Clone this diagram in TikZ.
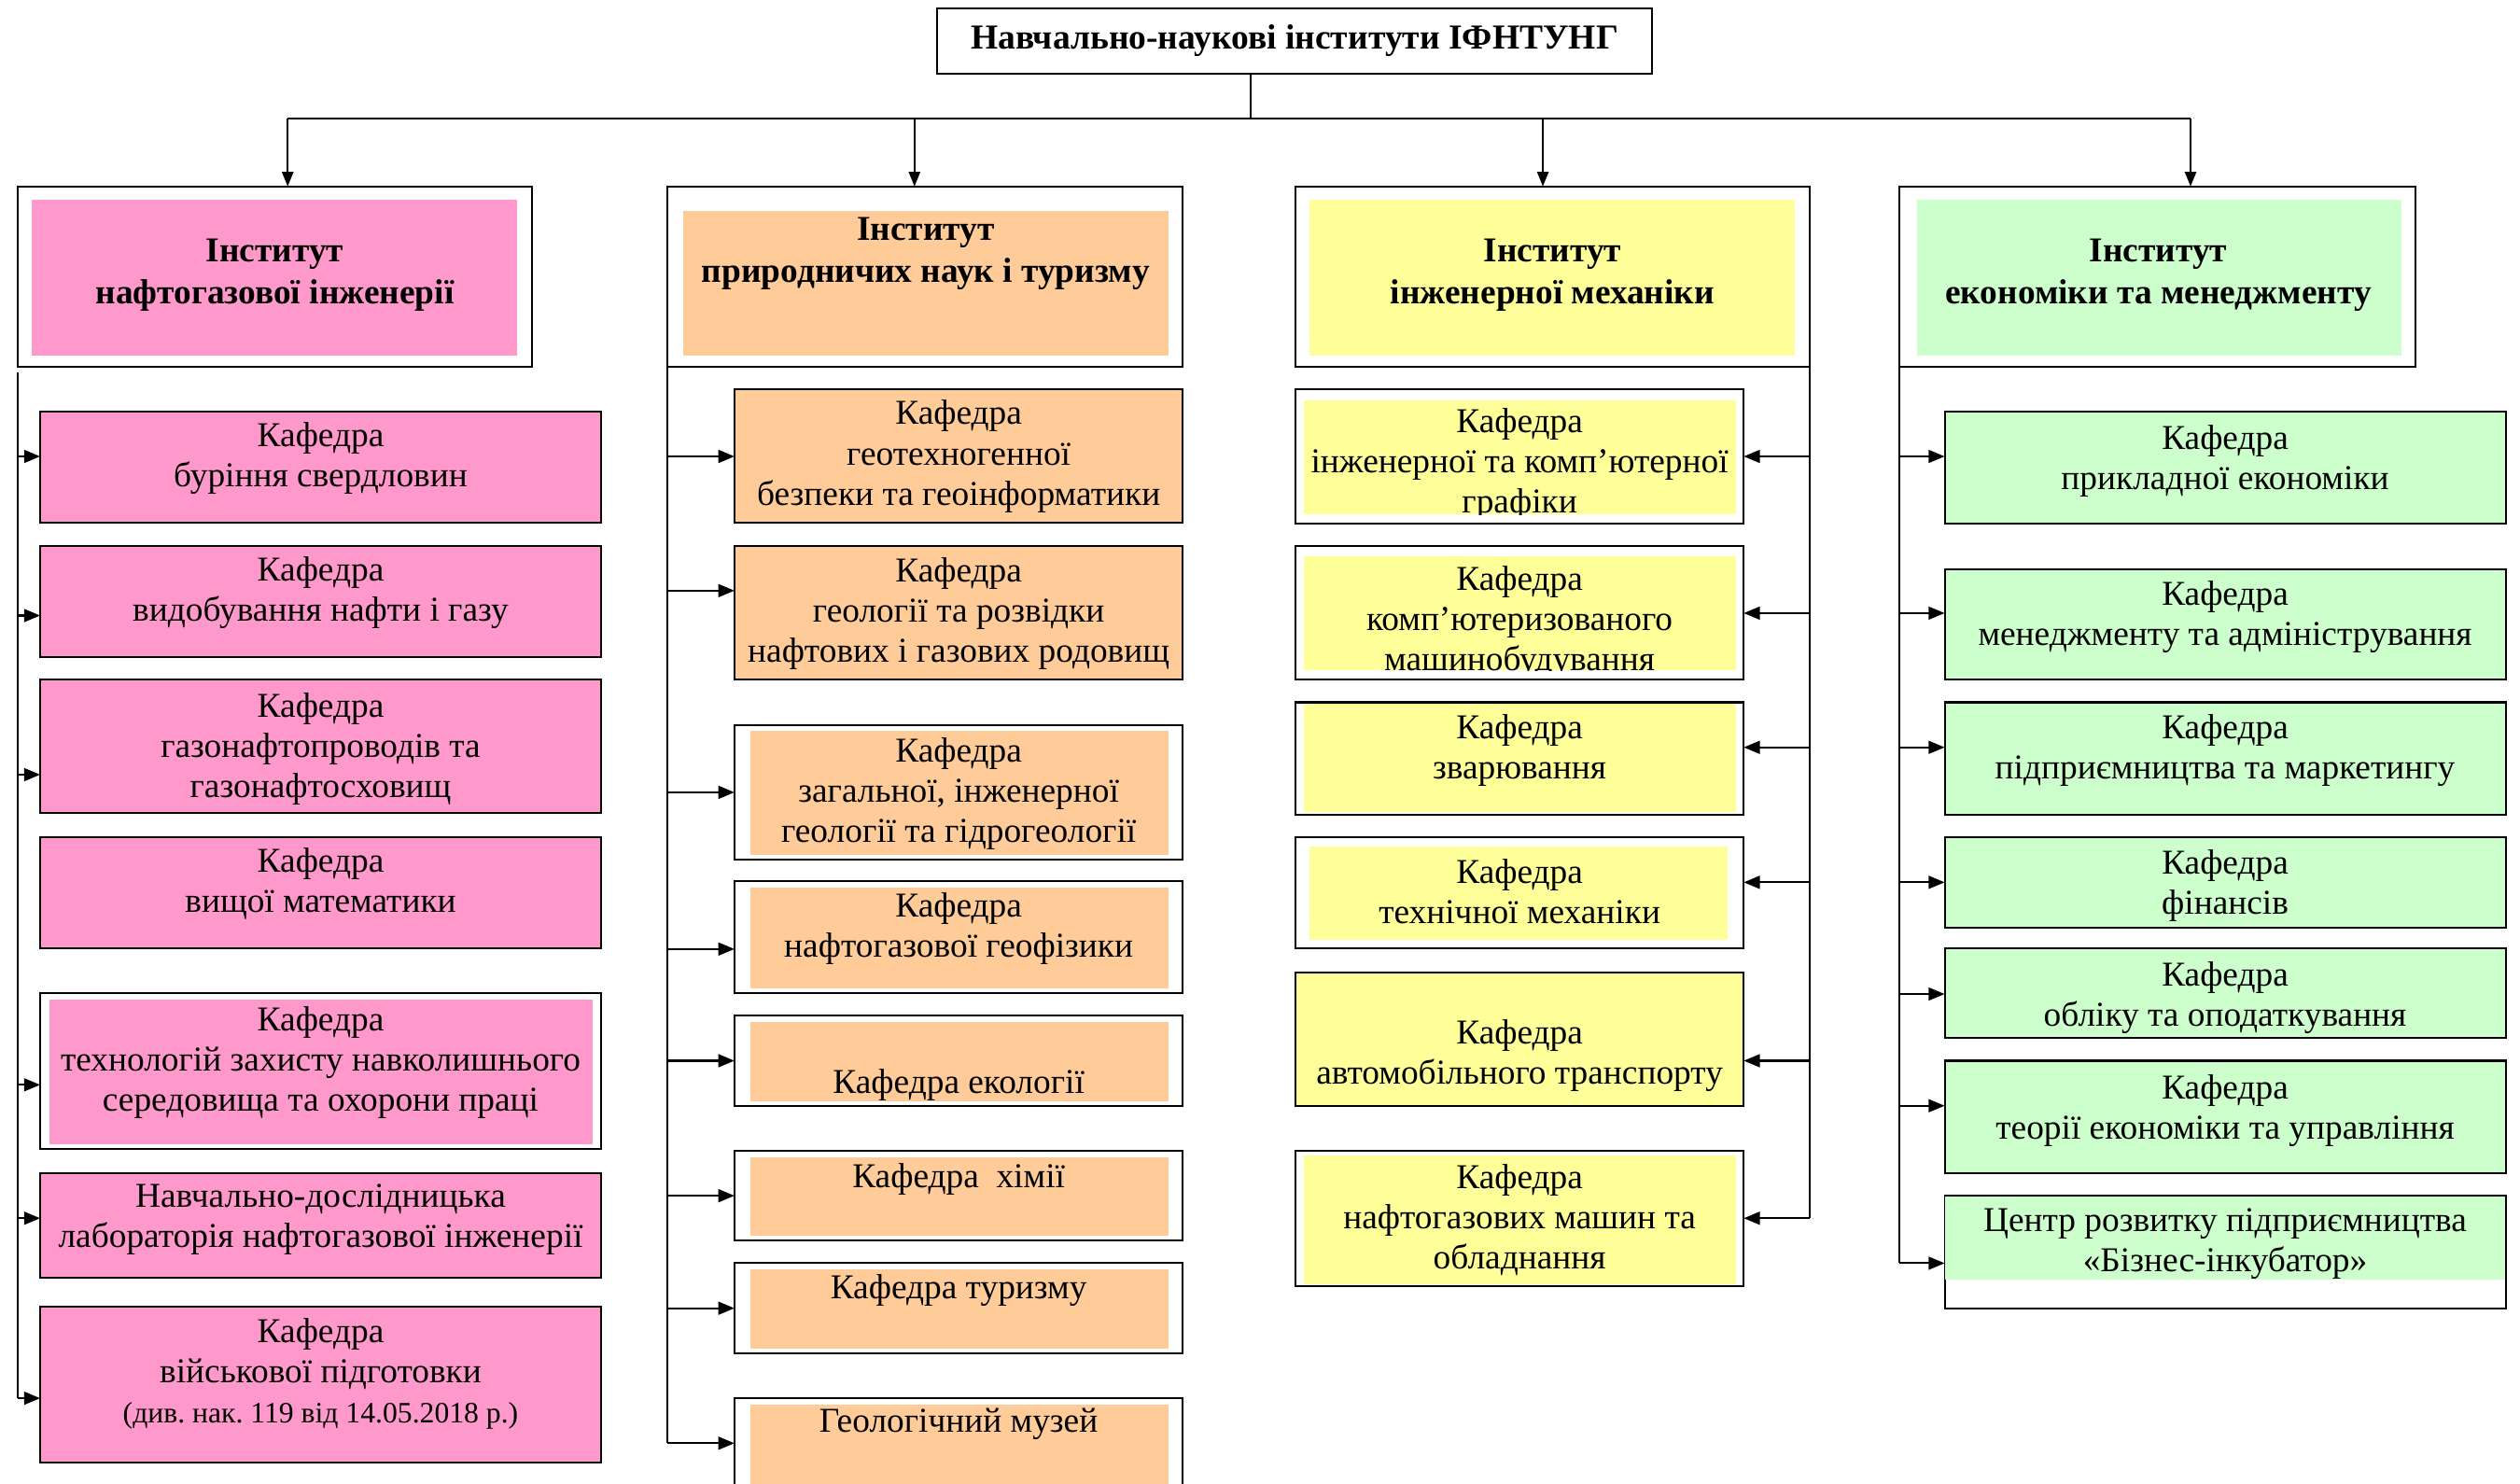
\documentclass[tikz,border=0pt]{standalone}
\usepackage{fontspec}
\setmainfont{Liberation Serif}
\usetikzlibrary{arrows.meta}
\frenchspacing
\definecolor{cpink}{HTML}{FF99CC}
\definecolor{corange}{HTML}{FFCC99}
\definecolor{cyellow}{HTML}{FFFF99}
\definecolor{cgreen}{HTML}{CCFFCC}
\tikzset{
 frame/.style={draw=black, line width=1.2pt, inner sep=0pt, outer sep=0pt},
 arr/.style={line width=1.2pt, -{Triangle[length=10pt,width=8pt]}},
 downarr/.style={line width=1.2pt, -{Triangle[length=9pt,width=7pt]}},
 bus/.style={line width=1.2pt},
 txt/.style={align=center, inner sep=0pt, font=\fontsize{21.7}{25}\selectfont},
 ttl/.style={align=center, inner sep=0pt, font=\bfseries\fontsize{21.7}{26}\selectfont},
}
\newcommand\bx[6]{\node[frame, fill=#6, minimum width={#4-#2}, minimum height={#5-#3}] (#1) at ({(#2+#4)/2},{(#3+#5)/2}) {};}
\newcommand\inr[5]{\fill[#5] (#1,#2) rectangle (#3,#4);}
\newcommand\rar[3]{\coordinate (#1s) at (#2,#3);\draw[arr] (#1s) -- (#1s -| #1.west);}
\newcommand\lar[3]{\coordinate (#1s) at (#2,#3);\draw[arr] (#1s) -- (#1s -| #1.east);}
\begin{document}
\begin{tikzpicture}[x=1pt,y=-1pt]
\path[use as bounding box, clip] (0,0) rectangle (1568,923);
\fill[white] (0,0) rectangle (1568,923);

% title
\node[frame, fill=white, minimum width=445, minimum height=41, font=\bfseries\fontsize{21.8}{26}\selectfont] (top) at (805.5,25.5) {Навчально-наукові інститути ІФНТУНГ};

% institutes
\bx{i1}{11}{116}{331}{228}{white}
\inr{20}{124}{322}{221}{cpink}
\node[ttl] (i1t) at (171,171) {Інститут\\нафтогазової інженерії};
\bx{i2}{415}{116}{736}{228}{white}
\inr{425}{131}{727}{221}{corange}
\node[ttl] (i2t) at (576,158) {Інститут\\природничих наук і туризму};
\bx{i3}{806}{116}{1126}{228}{white}
\inr{815}{124}{1117}{221}{cyellow}
\node[ttl] (i3t) at (966,171) {Інститут\\інженерної механіки};
\bx{i4}{1182}{116}{1503}{228}{white}
\inr{1193}{124}{1494}{221}{cgreen}
\node[ttl] (i4t) at (1343,171) {Інститут\\економіки та менеджменту};

% top connectors
\coordinate (hub) at (778,74);
\coordinate (j1) at (179,74);
\coordinate (j2) at (569,74);
\coordinate (j3) at (960,74);
\coordinate (j4) at (1363,74);
\draw[bus] (top.south -| hub) -- (hub);
\draw[bus] (j1) -- (j4);
\draw[downarr] (j1) -- (j1 |- i1.north);
\draw[downarr] (j2) -- (j2 |- i2.north);
\draw[downarr] (j3) -- (j3 |- i3.north);
\draw[downarr] (j4) -- (j4 |- i4.north);

% ---------- column 1
\bx{b1}{25}{256}{374}{325}{cpink}
\node[txt] (b1t) at (199.5,285) {Кафедра\\буріння свердловин};
\bx{b2}{25}{340}{374}{409}{cpink}
\node[txt] (b2t) at (199.5,369) {Кафедра\\видобування нафти і газу};
\bx{b3}{25}{423}{374}{506}{cpink}
\node[txt] (b3t) at (199.5,466) {Кафедра\\газонафтопроводів та\\газонафтосховищ};
\bx{b4}{25}{521}{374}{590}{cpink}
\node[txt] (b4t) at (199.5,550) {Кафедра\\вищої математики};
\bx{b5}{25}{618}{374}{715}{white}
\inr{31}{622}{369}{712}{cpink}
\node[txt] (b5t) at (199.5,661) {Кафедра\\технологій захисту навколишнього\\середовища та охорони праці};
\bx{b6}{25}{730}{374}{795}{cpink}
\node[txt] (b6t) at (199.5,759) {Навчально-дослідницька\\лабораторія нафтогазової інженерії};
\bx{b7}{25}{813}{374}{910}{cpink}
\node[txt] (b7t) at (199.5,855) {Кафедра\\військової підготовки\\{\fontsize{18.4}{22}\selectfont (див. нак. 119 від 14.05.2018 р.)}};
\rar{b1}{11}{284}
\rar{b2}{11}{383}
\rar{b3}{11}{482}
\rar{b5}{11}{675}
\rar{b6}{11}{758}
\rar{b7}{11}{870}
\draw[bus] ([yshift=-4pt]i1.south west) -- (b7s);

% ---------- column 2
\bx{c1}{457}{242}{736}{325}{corange}
\node[txt] (c1t) at (596.5,284) {Кафедра\\геотехногенної\\безпеки та геоінформатики};
\bx{c2}{457}{340}{736}{423}{corange}
\node[txt] (c2t) at (596.5,382) {Кафедра\\геології та розвідки\\нафтових і газових родовищ};
\bx{c3}{457}{451}{736}{535}{white}
\inr{467}{455}{727}{532}{corange}
\node[txt] (c3t) at (596.5,494) {Кафедра\\загальної, інженерної\\геології та гідрогеології};
\bx{c4}{457}{548}{736}{618}{white}
\inr{467}{552}{727}{615}{corange}
\node[txt] (c4t) at (596.5,578) {Кафедра\\нафтогазової геофізики};
\bx{c5}{457}{632}{736}{688}{white}
\inr{467}{636}{727}{685}{corange}
\node[txt] (c5t) at (596.5,675) {Кафедра екології};
\bx{c6}{457}{716}{736}{772}{white}
\inr{467}{720}{727}{769}{corange}
\node[txt] (c6t) at (596.5,734) {Кафедра\ \ хімії};
\bx{c7}{457}{786}{736}{842}{white}
\inr{467}{790}{727}{839}{corange}
\node[txt] (c7t) at (596.5,803) {Кафедра туризму};
\bx{c8}{457}{870}{736}{950}{white}
\inr{467}{874}{727}{950}{corange}
\node[txt] (c8t) at (596.5,886) {Геологічний музей};
\rar{c1}{415}{284}
\rar{c2}{415}{367.5}
\rar{c3}{415}{493}
\rar{c4}{415}{590.5}
\rar{c5}{415}{660}
\rar{c6}{415}{744}
\rar{c7}{415}{814}
\rar{c8}{415}{898}
\draw[bus] (i2.south west) -- (c8s);

% ---------- column 3
\bx{d1}{806}{242}{1085}{326}{white}
\inr{811}{249}{1080}{320}{cyellow}
\begin{scope}
\clip (811,249) rectangle (1080,320);
\node[txt] (d1t) at (945.5,289) {Кафедра\\інженерної та комп’ютерної\\графіки};
\end{scope}
\bx{d2}{806}{340}{1085}{423}{white}
\inr{811}{346}{1080}{417}{cyellow}
\begin{scope}
\clip (811,346) rectangle (1080,417);
\node[txt] (d2t) at (945.5,387) {Кафедра\\комп’ютеризованого\\машинобудування};
\end{scope}
\bx{d3}{806}{437}{1085}{507}{white}
\inr{811}{438}{1080}{505}{cyellow}
\node[txt] (d3t) at (945.5,467) {Кафедра\\зварювання};
\bx{d4}{806}{521}{1085}{590}{white}
\inr{815}{527}{1075}{585}{cyellow}
\node[txt] (d4t) at (945.5,555) {Кафедра\\технічної механіки};
\bx{d5}{806}{605}{1085}{688}{cyellow}
\node[txt] (d5t) at (945.5,657) {Кафедра\\автомобільного транспорту};
\bx{d6}{806}{716}{1085}{800}{white}
\inr{811}{719}{1080}{799}{cyellow}
\node[txt] (d6t) at (945.5,759) {Кафедра\\нафтогазових машин та\\обладнання};
\lar{d1}{1126}{284}
\lar{d2}{1126}{381.5}
\lar{d3}{1126}{465}
\lar{d4}{1126}{549}
\lar{d5}{1126}{660}
\lar{d6}{1126}{758}
\draw[bus] (i3.south east) -- (d6s);

% ---------- column 4
\bx{e1}{1210}{256}{1559}{326}{cgreen}
\node[txt] (e1t) at (1384.5,287) {Кафедра\\прикладної економіки};
\bx{e2}{1210}{354}{1559}{423}{cgreen}
\node[txt] (e2t) at (1384.5,384) {Кафедра\\менеджменту та адміністрування};
\bx{e3}{1210}{437}{1559}{507}{cgreen}
\node[txt] (e3t) at (1384.5,467) {Кафедра\\підприємництва та маркетингу};
\bx{e4}{1210}{521}{1559}{577}{cgreen}
\node[txt] (e4t) at (1384.5,551) {Кафедра\\фінансів};
\bx{e5}{1210}{590}{1559}{646}{cgreen}
\node[txt] (e5t) at (1384.5,621) {Кафедра\\обліку та оподаткування};
\bx{e6}{1210}{660}{1559}{730}{cgreen}
\node[txt] (e6t) at (1384.5,691) {Кафедра\\теорії економіки та управління};
\bx{e7}{1210}{744}{1559}{814}{white}
\inr{1210.5}{744.5}{1558.5}{796}{cgreen}
\node[txt] (e7t) at (1384.5,774) {Центр розвитку підприємництва\\«Бізнес-інкубатор»};
\rar{e1}{1182}{284}
\rar{e2}{1182}{381.5}
\rar{e3}{1182}{465}
\rar{e4}{1182}{549}
\rar{e5}{1182}{618.5}
\rar{e6}{1182}{688}
\rar{e7}{1182}{786}
\draw[bus] (i4.south west) -- (e7s);
\end{tikzpicture}
\end{document}
